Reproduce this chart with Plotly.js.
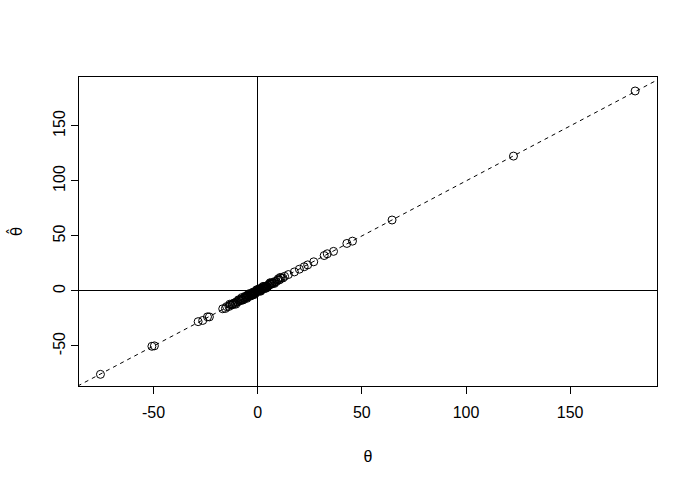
<!DOCTYPE html>
<html>
<head>
<meta charset="utf-8">
<script src="https://cdn.plot.ly/plotly-3.0.1.min.js"></script>
<style>html,body{margin:0;padding:0;background:#fff;}#chart{width:695px;height:484px;}</style>
</head>
<body>
<div id="chart"></div>
<script>
// true parameter values (theta)
const theta = [
  -75.5, -50.8, -49.6, -28.6, -26.4, -24.1, -23.2,
  -16.8, -15.5, -14.9, -13.8, -13.0, -12.2, -11.5, -10.9, -10.1, -9.6, -9.0, -8.4, -7.9, -7.3,
  -6.8, -6.2, -5.7, -5.1, -4.6, -4.1, -3.6, -3.2, -2.8, -2.4, -2.0, -1.7, -1.3, -1.0, -0.7, -0.4,
  -0.2, 0.1, 0.3, 0.6, 0.9, 1.2, 1.5, 1.9, 2.3, 2.7, 3.1, 3.5, 4.0, 4.4, 4.9, 5.4, 5.9, 6.4,
  7.0, 7.6, 8.2, 8.9, 9.6, 10.4, 11.2, 12.1, 12.9,
  -5.5, -3.0, -1.5, 0.0, 1.0, 2.0, 3.8, -8.0, -12.0, 6.8,
  -9.2, -7.0, -4.8, -3.4, -2.2, -1.1, 0.4, 1.6, 2.9, 4.6, 5.8, 8.0, 9.9, -6.0, -2.6, 0.8, 3.3,
  -10.5, -7.6, -5.2, -3.9, -1.8, -0.5, 1.3, 2.5, 4.2, 6.1, -13.4, 10.8,
  14.7, 17.6, 20.0, 22.3, 24.0, 26.9, 31.9, 33.4, 36.4, 42.8, 45.5, 64.5, 122.8, 181.2
];
// estimates (theta hat)
const thetaHat = [
  -75.8, -50.3, -49.9, -27.9, -26.8, -23.5, -23.6,
  -16.2, -15.9, -14.2, -14.1, -12.6, -12.7, -11.0, -11.4, -9.7, -10.0, -8.5, -8.9, -7.4, -7.8,
  -6.4, -6.6, -5.3, -5.6, -4.2, -4.5, -3.2, -3.6, -2.4, -2.8, -1.6, -2.0, -1.0, -1.3, -0.4, -0.7,
  0.1, -0.2, 0.6, 0.3, 1.2, 0.9, 1.9, 1.5, 2.6, 2.3, 3.5, 3.1, 4.3, 4.0, 5.3, 5.0, 6.3, 6.0,
  7.3, 7.2, 8.6, 8.5, 9.9, 10.0, 11.6, 11.8, 13.3,
  -6.0, -2.5, -1.8, 0.4, 0.6, 2.2, 3.6, -8.3, -11.8, 7.1,
  -8.0, -8.2, -3.6, -4.6, -1.0, -2.3, 1.6, 0.4, 4.1, 3.4, 7.0, 6.8, 11.1, -4.8, -3.8, 2.0, 2.1,
  -12.0, -6.0, -6.7, -2.3, -3.4, 1.1, -0.3, 4.0, 2.7, 7.6, -12.0, 12.3,
  14.9, 17.3, 19.8, 22.0, 23.7, 26.5, 32.2, 33.8, 36.0, 43.2, 45.3, 64.5, 122.6, 181.8
];
// identity reference line endpoints
const refLine = [-100, 250];
const xTicks = [-50, 0, 50, 100, 150];
const yTicks = [-50, 0, 50, 100, 150];

const font = {family: 'Liberation Sans, Arial, sans-serif', size: 16, color: '#000'};

const traces = [
  {x: refLine, y: refLine, type: 'scatter', mode: 'lines',
   line: {color: '#000', width: 1, dash: '4px,4px'}, hoverinfo: 'skip'},
  {x: theta, y: thetaHat, type: 'scatter', mode: 'markers',
   marker: {symbol: 'circle-open', size: 8, color: '#000', line: {width: 1, color: '#000'}}}
];

const layout = {
  width: 695, height: 484,
  margin: {l: 79, r: 38, t: 77, b: 98},
  paper_bgcolor: '#fff', plot_bgcolor: '#fff',
  showlegend: false,
  font: font,
  xaxis: {
    range: [-85.8, 191.7], showgrid: false,
    zeroline: true, zerolinecolor: '#000', zerolinewidth: 1,
    showline: true, linecolor: '#000', linewidth: 1, mirror: true,
    ticks: 'outside', ticklen: 7, tickcolor: '#000', tickwidth: 1,
    ticklabelstandoff: 5,
    tickvals: xTicks, ticktext: xTicks.map(String), tickfont: font,
    title: {text: 'θ', font: font, standoff: 30}
  },
  yaxis: {
    range: [-86.4, 194.5], showgrid: false,
    zeroline: true, zerolinecolor: '#000', zerolinewidth: 1,
    showline: true, linecolor: '#000', linewidth: 1, mirror: true,
    ticks: 'outside', ticklen: 7, tickcolor: '#000', tickwidth: 1,
    tickvals: yTicks, ticktext: yTicks.map(String), tickangle: -90, tickfont: font,
    title: {text: 'θ\u0302', font: {family: 'DejaVu Sans, sans-serif', size: 15, color: '#000'}, standoff: 24}
  }
};

Plotly.newPlot('chart', traces, layout, {displayModeBar: false, staticPlot: true});
</script>
</body>
</html>
